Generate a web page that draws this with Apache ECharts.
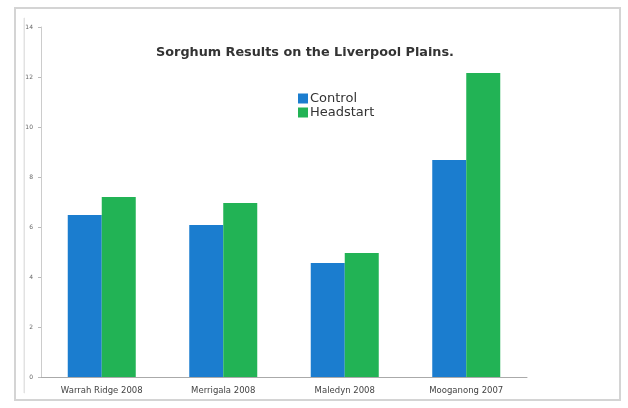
<!DOCTYPE html>
<html><head><meta charset="utf-8">
<script src="https://cdn.jsdelivr.net/npm/echarts@6/dist/echarts.min.js"></script>
<style>html,body{margin:0;padding:0;background:#fff;}#c{width:628px;height:408px;}</style>
</head><body><div id="c"></div>
<script>
const categories = ["Warrah Ridge 2008", "Merrigala 2008", "Maledyn 2008", "Mooganong 2007"];
const controlValues = [6.48, 6.08, 4.56, 8.68];
const headstartValues = [7.2, 6.96, 4.96, 12.16];
const yTicks = [0, 2, 4, 6, 8, 10, 12, 14];

const chart = echarts.init(document.getElementById('c'), null, {renderer: 'canvas'});
chart.setOption({
  backgroundColor: '#fff',
  animation: false,
  graphic: [
    {type: 'rect', shape: {x: 15, y: 8, width: 605, height: 392}, style: {fill: 'none', stroke: '#d4d4d4', lineWidth: 2}, z: -1},
    {type: 'rect', shape: {x: 24, y: 18, width: 0.5, height: 375}, style: {fill: 'none', stroke: '#e2e2e2', lineWidth: 1}, z: -1}
  ],
  title: {
    text: 'Sorghum Results on the Liverpool Plains.',
    left: 300, top: 41, textAlign: 'center',
    textStyle: {fontFamily: 'DejaVu Sans', fontSize: 12.8, fontWeight: 'bold', color: '#333'}
  },
  legend: {
    orient: 'vertical', left: 293, top: 87, itemWidth: 10, itemHeight: 10, itemGap: 1,
    icon: 'rect',
    textStyle: {fontFamily: 'DejaVu Sans', fontSize: 13, color: '#333', padding: [0,0,0,-3]},
    data: ['Control', 'Headstart']
  },
  grid: {left: 41, right: 101, top: 27, bottom: 31, containLabel: false},
  xAxis: {
    type: 'category', data: categories,
    axisLine: {lineStyle: {color: '#aaa', width: 1}},
    axisTick: {show: false},
    axisLabel: {fontFamily: 'DejaVu Sans', fontSize: 8.5, color: '#444', margin: 9}
  },
  yAxis: {
    type: 'value', min: 0, max: 14, interval: 2,
    axisLine: {show: true, lineStyle: {color: '#ccc'}},
    axisTick: {show: true, inside: false, length: 3, lineStyle: {color: '#bbb'}},
    splitLine: {show: false},
    axisLabel: {fontFamily: 'DejaVu Sans', fontSize: 6, color: '#666', margin: 8,
      formatter: v => yTicks.includes(v) ? String(v) : ''}
  },
  series: [
    {name: 'Control', type: 'bar', data: controlValues, barWidth: 34, barGap: '0%', itemStyle: {color: '#1b7dcf'}},
    {name: 'Headstart', type: 'bar', data: headstartValues, barWidth: 34, barGap: '0%', itemStyle: {color: '#22b355'}}
  ]
});
</script></body></html>
